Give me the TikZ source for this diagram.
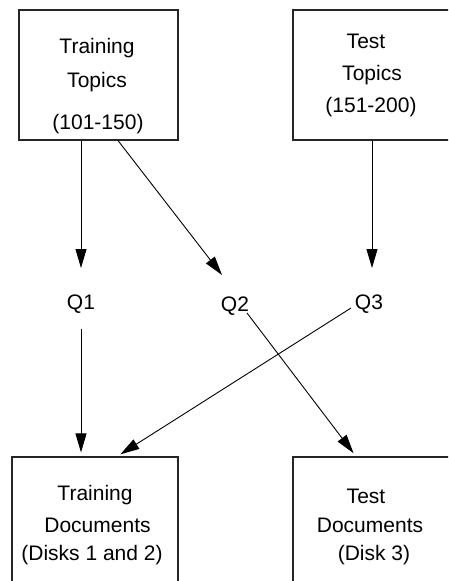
\documentclass[tikz,border=0pt]{standalone}
\usepackage{fontspec}
\setmainfont{Liberation Sans}
\usetikzlibrary{arrows.meta,calc}
\begin{document}
\begin{tikzpicture}[x=1pt,y=-1pt,
  box/.style={draw=black!85,line width=1.1pt,inner sep=0pt,rectangle},
  lbl/.style={font=\fontsize{21}{25}\selectfont,inner sep=0pt,anchor=base},
  arr/.style={draw=black,line width=0.9pt,-{Triangle[length=19pt,width=11pt]}}]
\useasboundingbox (0,0) rectangle (448,581);
\clip (0,0) rectangle (448,581);
% boxes
\node[box,minimum width=159pt,minimum height=130pt] (trtop) at (98.5,75) {};
\node[box,minimum width=160pt,minimum height=130pt] (tetop) at (373,75) {};
\node[box,minimum width=166pt,minimum height=130pt] (trdoc) at (95,522) {};
\node[box,minimum width=160pt,minimum height=130pt] (tedoc) at (373,522) {};
% texts
\node[lbl] (t1a) at (97,53) {Training};
\node[lbl] (t1b) at (97,87) {Topics};
\node[lbl] (t1c) at (98,129) {(101-150)};
\node[lbl] (t2a) at (366,48) {Test};
\node[lbl] (t2b) at (372,80) {Topics};
\node[lbl] (t2c) at (371,112) {(151-200)};
\node[lbl] (d1a) at (95,500) {Training};
\node[lbl] (d1b) at (97.5,532) {Documents};
\node[lbl] (d1c) at (92,560) {(Disks 1 and 2)};
\node[lbl] (d2a) at (366,503) {Test};
\node[lbl] (d2b) at (370,532) {Documents};
\node[lbl] (d2c) at (374,560) {(Disk 3)};
\node[lbl] (q1) at (81,309) {Q1};
\node[lbl] (q2) at (235,311) {Q2};
\node[lbl] (q3) at (369,309) {Q3};
% connector ends near the Q labels
\coordinate (q1in) at (81,268);
\coordinate (q1out) at (81,329);
\coordinate (q2in) at (222,275);
\coordinate (q2out) at (247,313);
\coordinate (q3in) at (372,268);
\coordinate (q3out) at (351,308);
\coordinate (s2) at (118,140);
% connectors
\draw[arr] (trtop.south -| q1in) -- (q1in);
\draw[arr] (trtop.south -| s2) -- (q2in);
\draw[arr] (tetop.south -| q3in) -- (q3in);
\draw[arr,shorten >=4pt] (q1out) -- (trdoc.north -| q1out);
\draw[arr,shorten >=4pt] (q3out) -- ($(trdoc.north)+(22,0)$);
\draw[arr,shorten >=4pt] (q2out) -- ($(tedoc.north)+(-17,0)$);
\end{tikzpicture}
\end{document}
